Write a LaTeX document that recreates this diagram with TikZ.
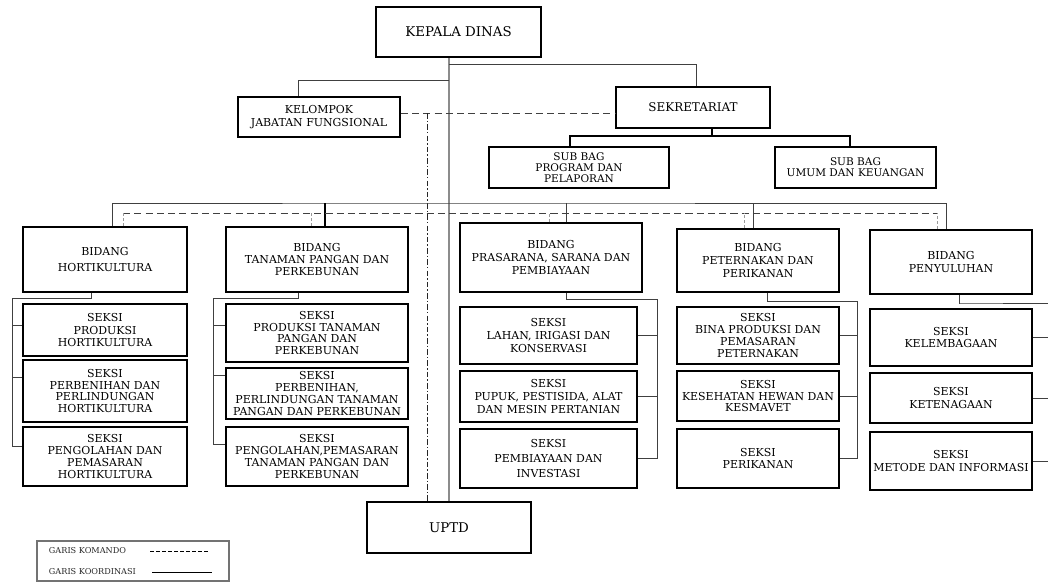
\documentclass[tikz,border=0pt]{standalone}
\usepackage{fontspec}
\setmainfont{DejaVu Serif}
\usepackage{tikz}
\tikzstyle{organ} = [draw, line width=1.3pt, align=center, inner sep=0pt, font=\fontsize{7.8}{9}\selectfont]
\tikzstyle{kepala} = [font=\fontsize{9.5}{11}\selectfont]
\tikzstyle{sekret} = [font=\fontsize{8.5}{10}\selectfont]
\tikzstyle{subbag} = [font=\fontsize{7.5}{8}\selectfont]
\tikzstyle{rapat} = [font=\fontsize{7.8}{8.5}\selectfont]
\tikzstyle{biasa} = []
\tikzstyle{line} = [draw, line width=0.6pt, color=black!75]
\tikzstyle{spine} = [draw, line width=1pt, color=black!45]
\tikzstyle{komando} = [draw, line width=0.6pt, color=black!75, dash pattern=on 5pt off 3pt]
\tikzstyle{sela} = [draw, line width=0.6pt, color=black!40, dash pattern=on 2pt off 1.5pt]
\tikzstyle{titik} = [draw, line width=0.6pt, color=black!85, dash pattern=on 4pt off 1.5pt on 1pt off 1.5pt]
\newcommand{\kotak}[5]{node (#2) [organ, #1, minimum width=#3*0.025cm, minimum height=#4*0.025cm] {#5}}

\begin{document}
\begin{tikzpicture}[x=0.025cm,y=-0.025cm]
\useasboundingbox (0,0) rectangle (1048,581);
\path (458.5,32) \kotak{kepala}{kd}{165}{50}{KEPALA DINAS};
\path (kd)+(-139.5,85) \kotak{biasa}{kjf}{162}{40}{KELOMPOK\\JABATAN FUNGSIONAL};
\path (kd)+(234.5,75.5) \kotak{sekret}{sek}{154}{41}{SEKRETARIAT};
\path (sek)+(-114,60) \kotak{subbag}{sbp}{180}{41}{SUB BAG\\PROGRAM DAN\\PELAPORAN};
\path (sek)+(162.5,60) \kotak{subbag}{sbu}{161}{41}{SUB BAG\\UMUM DAN KEUANGAN};
\path (kd)+(-9.5,495.5) \kotak{kepala}{uptd}{164}{51}{UPTD};

% bidang
\path (kd)+(-353.5,227.5) \kotak{biasa}{bh}{164}{65}{BIDANG\\[3pt]HORTIKULTURA};
\path (bh)+(212,0) \kotak{rapat}{bt}{182}{65}{BIDANG\\TANAMAN PANGAN DAN\\PERKEBUNAN};
\path (bt)+(234,-2) \kotak{biasa}{bp}{182}{69}{BIDANG\\PRASARANA, SARANA DAN\\PEMBIAYAAN};
\path (bp)+(207,3) \kotak{biasa}{bpk}{162}{63}{BIDANG\\PETERNAKAN DAN\\PERIKANAN};
\path (bpk)+(193,1.5) \kotak{biasa}{bpy}{162}{64}{BIDANG\\PENYULUHAN};

% seksi
\path (bh)+(0,70.5) \kotak{biasa}{h1}{164}{52}{SEKSI\\PRODUKSI\\HORTIKULTURA};
\path (h1)+(0,61) \kotak{rapat}{h2}{164}{62}{SEKSI\\PERBENIHAN DAN\\PERLINDUNGAN\\HORTIKULTURA};
\path (h2)+(0,65.5) \kotak{rapat}{h3}{164}{59}{SEKSI\\PENGOLAHAN DAN\\PEMASARAN\\HORTIKULTURA};
\path (bt)+(0,73.5) \kotak{rapat}{t1}{182}{58}{SEKSI\\PRODUKSI TANAMAN\\PANGAN DAN\\PERKEBUNAN};
\path (t1)+(0,60.5) \kotak{rapat}{t2}{182}{51}{SEKSI\\PERBENIHAN,\\PERLINDUNGAN TANAMAN\\PANGAN DAN PERKEBUNAN};
\path (t2)+(0,63) \kotak{rapat}{t3}{182}{59}{SEKSI\\PENGOLAHAN,PEMASARAN\\TANAMAN PANGAN DAN\\PERKEBUNAN};
\path (bp)+(-2.5,78) \kotak{biasa}{p1}{177}{57}{SEKSI\\LAHAN, IRIGASI DAN\\KONSERVASI};
\path (p1)+(0,61) \kotak{biasa}{p2}{177}{51}{SEKSI\\PUPUK, PESTISIDA, ALAT\\DAN MESIN PERTANIAN};
\path (p2)+(0,62) \kotak{biasa}{p3}{177}{59}{SEKSI\\[2pt]PEMBIAYAAN DAN\\[2pt]INVESTASI};
\path (bpk)+(0,75) \kotak{rapat}{k1}{162}{57}{SEKSI\\BINA PRODUKSI DAN\\PEMASARAN\\PETERNAKAN};
\path (k1)+(0,60.5) \kotak{rapat}{k2}{162}{50}{SEKSI\\KESEHATAN HEWAN DAN\\KESMAVET};
\path (k2)+(0,62.5) \kotak{rapat}{k3}{162}{59}{SEKSI\\PERIKANAN};
\path (bpy)+(0,75.5) \kotak{biasa}{y1}{162}{57}{SEKSI\\KELEMBAGAAN};
\path (y1)+(0,60.5) \kotak{biasa}{y2}{162}{50}{SEKSI\\KETENAGAAN};
\path (y2)+(0,63) \kotak{biasa}{y3}{162}{58}{SEKSI\\METODE DAN INFORMASI};

% titik bantu
\coordinate (j1) at (449,64);
\coordinate (j2) at (449,80);
\coordinate (kom) at (427,113);
\coordinate (sb) at (712,136);
\coordinate (bb) at (449,203);
\coordinate (db) at (427,213);
\coordinate (hb) at (12,298);
\coordinate (tb) at (213,298);
\coordinate (pb) at (657,299);
\coordinate (kb) at (857,301);
\coordinate (yb) at (959,303);
\coordinate (tepi) at (1048,0);

% garis atas
\path [spine] (uptd.north |- kd.south) -- (uptd.north);
\path [line] (j1) -| ([xshift=0.075cm]sek.north);
\path [line] (j2) -| ([xshift=-0.525cm]kjf.north);
\path [komando] (kjf.east |- kom) -- (sek.west |- kom);
\path [titik] (kom) -- (uptd.north -| kom);
\path [line,line width=1pt,black] (sb |- sek.south) -- (sb);
\path [line,line width=1pt,black] ([xshift=-0.225cm]sbp.north) |- (sb) -| ([xshift=-0.14cm]sbu.north);

% bidang
\path [line] ([xshift=0.175cm]bh.north) |- (bb) -| ([xshift=-0.125cm]bpy.north);
\path [line,line width=1.2pt,black] ([xshift=0.2cm]bt.north) -- ([xshift=0.2cm]bt.north |- bb);
\path [line] ([xshift=0.375cm]bp.north) -- ([xshift=0.375cm]bp.north |- bb);
\path [line] ([xshift=-0.125cm]bpk.north) -- ([xshift=-0.125cm]bpk.north |- bb);
\path [komando] ([xshift=0.45cm]bh.north |- db) -- ([xshift=-0.35cm]bpy.north |- db);
\foreach \n/\s in {bh/0.45, bt/-0.15, bp/-0.05, bpk/-0.35, bpy/-0.35}
  \path [sela] ([xshift=\s cm]\n.north) -- ([xshift=\s cm]\n.north |- db);

% seksi kiri
\path [line] ([xshift=-0.35cm]bh.south) |- (hb) |- ([yshift=0.24cm]h3.west);
\path [line] ([yshift=0.125cm]h1.west -| hb) -- ([yshift=0.125cm]h1.west);
\path [line] ([yshift=0.35cm]h2.west -| hb) -- ([yshift=0.35cm]h2.west);
\path [line] ([xshift=-0.475cm]bt.south) |- (tb) |- ([yshift=0.29cm]t3.west);
\path [line] ([yshift=0.2cm]t1.west -| tb) -- ([yshift=0.2cm]t1.west);
\path [line] ([yshift=0.44cm]t2.west -| tb) -- ([yshift=0.44cm]t2.west);

% seksi kanan
\path [line] ([xshift=0.375cm]bp.south) |- (pb) |- (p3.east);
\path [line] (p1.east -| pb) -- (p1.east);
\path [line] (p2.east -| pb) -- (p2.east);
\path [line] ([xshift=0.225cm]bpk.south) |- (kb) |- (k3.east);
\path [line] (k1.east -| kb) -- (k1.east);
\path [line] (k2.east -| kb) -- (k2.east);
\path [line] ([xshift=0.2cm]bpy.south) |- (yb) -- (yb -| tepi);
\foreach \n in {y1, y2, y3}
  \path [line] (\n.east) -- (\n.east -| tepi);

% keterangan
\path (133,561) node (leg) [draw, color=black!55, line width=0.8pt, minimum width=192*0.025cm, minimum height=40*0.025cm] {};
\path (44,551) node (lk) [anchor=west, text=black!85, font=\fontsize{5.8}{7}\selectfont] {GARIS KOMANDO};
\path (44,572) node (lr) [anchor=west, text=black!85, font=\fontsize{5.8}{7}\selectfont] {GARIS KOORDINASI};
\coordinate (lk1) at (150,551);
\coordinate (lk2) at (208,551);
\coordinate (lr1) at (152,572);
\coordinate (lr2) at (212,572);
\path [komando, black, dash pattern=on 2.5pt off 1.8pt] (lk1) -- (lk2);
\path [line, black] (lr1) -- (lr2);
\end{tikzpicture}
\end{document}
